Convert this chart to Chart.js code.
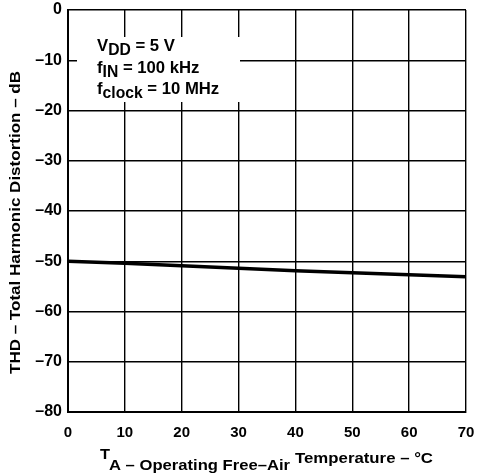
<!DOCTYPE html>
<html>
<head>
<meta charset="utf-8">
<script src="https://cdn.jsdelivr.net/npm/chart.js@4"></script>
<style>
  html, body { margin: 0; padding: 0; background: #fff; }
  #wrap { width: 477px; height: 474px; }
</style>
</head>
<body>
<div id="wrap"><canvas id="thdChart" width="477" height="474"></canvas></div>
<script>
// ==== DATA ====
const temps = [0, 10, 20, 30, 40, 50, 60, 70];             // TA (°C)
const thd = [-50, -50.4, -50.9, -51.4, -51.9, -52.3, -52.7, -53.1]; // dB
const xTicks = [0, 10, 20, 30, 40, 50, 60, 70];
const yTicks = [0, -10, -20, -30, -40, -50, -60, -70, -80];

const FONT = "'Liberation Sans', Arial, Helvetica, sans-serif";

// text with a subscript part: [[text, isSub], ...]
function drawParts(ctx, parts, x, y, size) {
  let cx = x;
  parts.forEach(([t, sub]) => {
    ctx.font = "bold " + (sub ? size - 1 : size) + "px " + FONT;
    ctx.fillText(t, cx, sub ? y + 4 : y);
    cx += ctx.measureText(t).width;
  });
  return cx;
}

// draw text squeezed / stretched horizontally to a given width (old datasheet font is wide)
function fillFit(ctx, text, x, y, w) {
  const m = ctx.measureText(text).width;
  ctx.save();
  ctx.translate(x, y);
  ctx.scale(w / m, 1);
  ctx.fillText(text, 0, 0);
  ctx.restore();
}

const annotations = {
  id: "annotations",
  beforeDatasetsDraw(chart) {
    const ctx = chart.ctx;
    ctx.save();
    // white box behind the conditions
    ctx.fillStyle = "#fff";
    ctx.fillRect(77, 37, 163, 65);
    ctx.fillStyle = "#000";
    ctx.textAlign = "left";
    ctx.textBaseline = "alphabetic";
    drawParts(ctx, [["V", false], ["DD", true], [" = 5 V", false]], 97, 51, 16.7);
    drawParts(ctx, [["f", false], ["IN", true], [" = 100 kHz", false]], 97, 73, 16.7);
    drawParts(ctx, [["f", false], ["clock", true], [" = 10 MHz", false]], 97, 94, 16.7);
    ctx.restore();
  },
  afterDraw(chart) {
    const ctx = chart.ctx;
    ctx.save();
    ctx.fillStyle = "#000";
    ctx.textBaseline = "alphabetic";
    ctx.textAlign = "left";
    // x axis title: T with subscript A
    ctx.font = "bold 15px " + FONT;
    fillFit(ctx, "T", 100, 459, 10);
    fillFit(ctx, "A \u2013 Operating Free\u2013Air", 109, 470, 181);
    fillFit(ctx, "Temperature \u2013 \u00B0C", 295, 463, 138);
    // y axis title
    ctx.translate(20, 374);
    ctx.rotate(-Math.PI / 2);
    fillFit(ctx, "THD \u2013 Total Harmonic Distortion \u2013 dB", 0, 0, 303);
    ctx.restore();
  }
};

new Chart(document.getElementById("thdChart"), {
  type: "line",
  data: {
    labels: temps,
    datasets: [{
      data: temps.map((t, i) => ({ x: t, y: thd[i] })),
      borderColor: "#000",
      borderWidth: 3.5,
      pointRadius: 0,
      tension: 0,
      fill: false
    }]
  },
  options: {
    responsive: false,
    animation: false,
    devicePixelRatio: 1,
    layout: { padding: { top: 10, right: 11, left: 0, bottom: 0 } },
    plugins: { legend: { display: false }, tooltip: { enabled: false } },
    scales: {
      x: {
        type: "linear",
        min: 0,
        max: 70,
        afterFit: s => { s.height = 62; s.paddingRight = 0; s.paddingLeft = 0; },
        afterBuildTicks: s => { s.ticks = xTicks.map(v => ({ value: v })); },
        grid: { color: "#000", lineWidth: 1.4, drawTicks: false },
        border: { color: "#000", width: 2 },
        ticks: {
          color: "#000",
          padding: 12,
          maxRotation: 0,
          font: { family: FONT, size: 15, weight: "bold" },
          callback: v => String(v)
        }
      },
      y: {
        min: -80,
        max: 0,
        afterFit: s => { s.width = 68; s.paddingTop = 0; s.paddingBottom = 0; },
        afterBuildTicks: s => { s.ticks = yTicks.map(v => ({ value: v })); },
        grid: { color: "#000", lineWidth: 1.4, drawTicks: false },
        border: { color: "#000", width: 2 },
        ticks: {
          color: "#000",
          padding: 6,
          font: { family: FONT, size: 16, weight: "bold" },
          callback: v => v < 0 ? "\u2013" + Math.abs(v) : String(v)
        }
      }
    }
  },
  plugins: [annotations]
});
</script>
</body>
</html>
